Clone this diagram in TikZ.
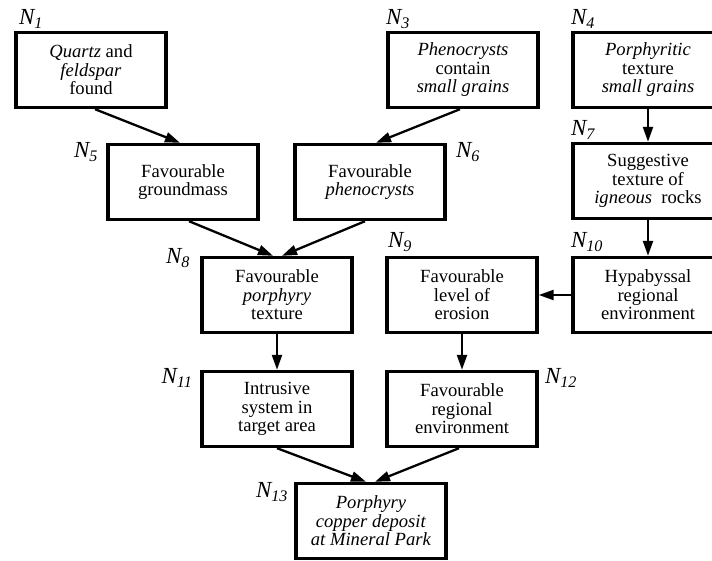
\documentclass[tikz,border=0pt]{standalone}
\usepackage{fontspec}
\setmainfont{Liberation Serif}
\usepackage{tikz}
\usetikzlibrary{arrows.meta}
\newcommand{\nlab}[1]{{\itshape N\textsubscript{\itshape #1}}}
\tikzset{
    box/.style={draw, line width=3.4pt, minimum width=150pt, minimum height=75pt, align=center, inner sep=2pt, font=\fontsize{18.6}{18.5}\selectfont},
    lbl/.style={inner sep=0pt, font=\fontsize{23}{23}\selectfont},
    link/.style={line width=2.3pt, -{Triangle[length=15pt, width=10pt]}}
}
\begin{document}
\begin{tikzpicture}[x=1pt, y=-1pt]
                    \useasboundingbox (0,0) rectangle (712,561);
                    \clip (0,0) rectangle (712,561);
                    \node[box] (n1) at (91,70) {\textit{Quartz} and\\ \textit{feldspar}\\ found};
                    \node[box] (n3) at (463,70) {\textit{Phenocrysts}\\ contain\\ \textit{small grains}};
                    \node[box] (n4) at (648,70) {\textit{Porphyritic}\\ texture\\ \textit{small grains}};
                    \node[box] (n5) at (183,182) {Favourable\\ groundmass};
                    \node[box] (n6) at (370,182) {Favourable\\ \textit{phenocrysts}};
                    \node[box] (n7) at (648,181) {Suggestive\\ texture of\\ \textit{igneous}\ \ rocks};
                    \node[box] (n8) at (277,295) {Favourable\\ \textit{porphyry}\\ texture};
                    \node[box] (n9) at (462,295) {Favourable\\ level of\\ erosion};
                    \node[box] (n10) at (648,295) {Hypabyssal\\ regional\\ environment};
                    \node[box] (n11) at (277,409) {Intrusive\\ system in\\ target area};
                    \node[box] (n12) at (462,409) {Favourable\\ regional\\ environment};
                    \node[box] (n13) at (371,521) {\textit{Porphyry}\\ \textit{copper deposit}\\ \textit{at Mineral Park}};

                    \node[lbl] (l1) at (31,19) {\nlab{1}};
                    \node[lbl] (l3) at (398,19) {\nlab{3}};
                    \node[lbl] (l4) at (583,19) {\nlab{4}};
                    \node[lbl] (l5) at (86,152) {\nlab{5}};
                    \node[lbl] (l6) at (468,152) {\nlab{6}};
                    \node[lbl] (l7) at (583,130) {\nlab{7}};
                    \node[lbl] (l8) at (178,258) {\nlab{8}};
                    \node[lbl] (l9) at (400,242) {\nlab{9}};
                    \node[lbl] (l10) at (587,242) {\nlab{10}};
                    \node[lbl] (l11) at (177,378) {\nlab{11}};
                    \node[lbl] (l12) at (561,378) {\nlab{12}};
                    \node[lbl] (l13) at (272,492) {\nlab{13}};

                    \draw[link] ([xshift=4pt]n1.south) -- ([xshift=-3pt]n5.north);
                    \draw[link] ([xshift=-3pt]n3.south) -- ([xshift=6pt]n6.north);
                    \draw[link] (n4) -- (n7);
                    \draw[link] ([xshift=6pt]n5.south) -- ([xshift=-4pt]n8.north);
                    \draw[link] ([xshift=-5pt]n6.south) -- ([xshift=5pt]n8.north);
                    \draw[link] (n7) -- (n10);
                    \draw[link] (n10) -- (n9);
                    \draw[link] (n8) -- (n11);
                    \draw[link] (n9) -- (n12);
                    \draw[link] (n11.south) -- ([xshift=-5pt]n13.north);
                    \draw[link] ([xshift=-3pt]n12.south) -- ([xshift=4pt]n13.north);
                \end{tikzpicture}
\end{document}
